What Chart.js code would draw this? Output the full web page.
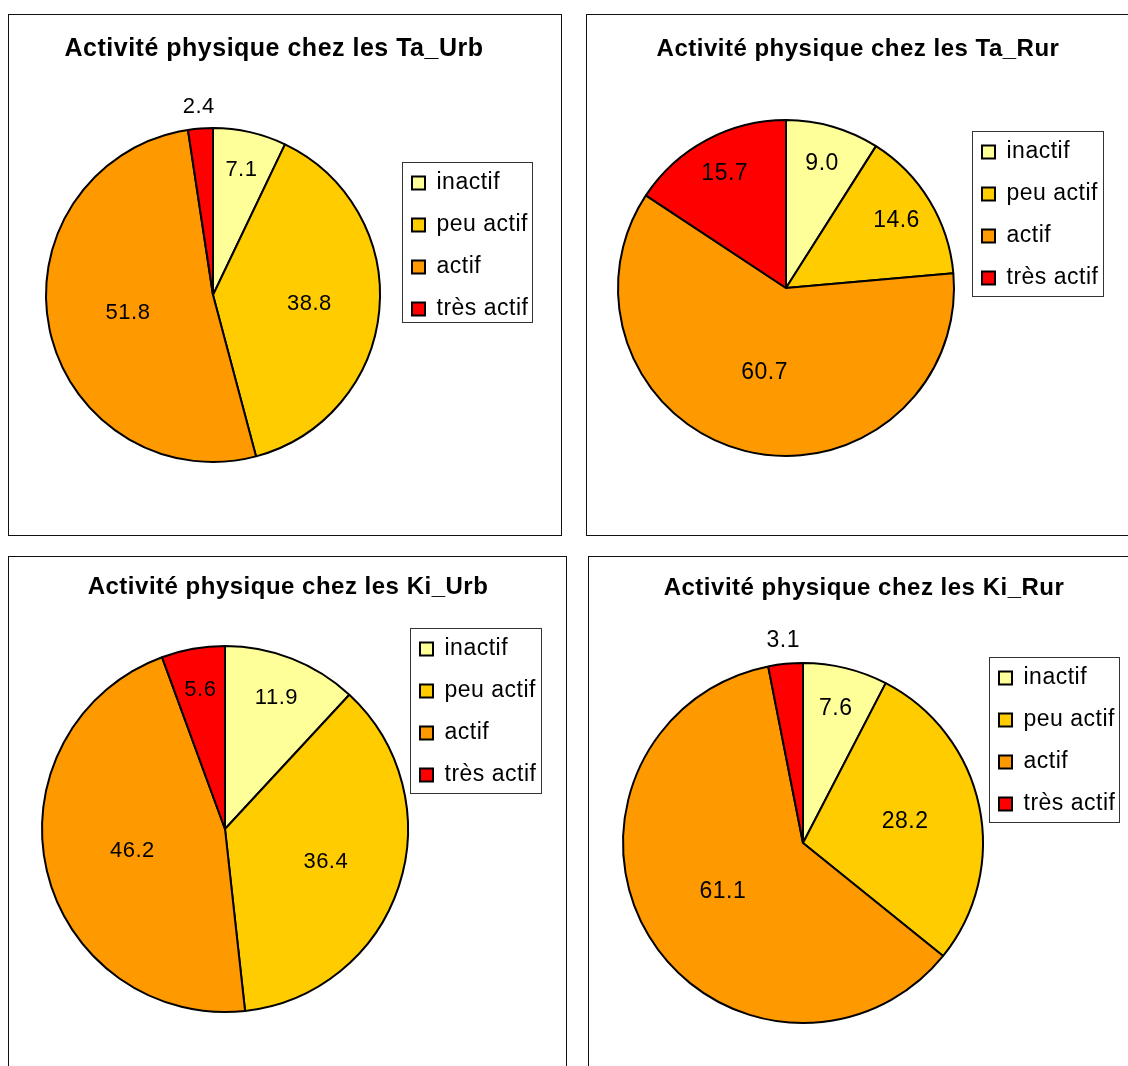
<!DOCTYPE html>
<html>
<head>
<meta charset="utf-8">
<script src="https://cdn.jsdelivr.net/npm/chart.js@4.4.0/dist/chart.umd.min.js"></script>
<style>
  html, body { margin: 0; padding: 0; background: #fff; }
  body { width: 1128px; height: 1066px; position: relative; overflow: hidden; }
  .panel { position: absolute; border: 1px solid #111; box-sizing: border-box; background: #fff; }
  .panel canvas { position: absolute; left: 0; top: 0; }
</style>
</head>
<body>
<div class="panel" id="p0"><canvas id="c0"></canvas></div>
<div class="panel" id="p1"><canvas id="c1"></canvas></div>
<div class="panel" id="p2"><canvas id="c2"></canvas></div>
<div class="panel" id="p3"><canvas id="c3"></canvas></div>
<script>
'use strict';

// categories and colours
const categories = ['inactif', 'peu actif', 'actif', 'très actif'];
const colors = ['#FFFF99', '#FFCC00', '#FF9900', '#FF0000'];

// values (%)
const taUrb = [7.1, 38.8, 51.8, 2.4];
const taRur = [9.0, 14.6, 60.7, 15.7];
const kiUrb = [11.9, 36.4, 46.2, 5.6];
const kiRur = [7.6, 28.2, 61.1, 3.1];

const titles = [
  'Activité physique chez les Ta_Urb',
  'Activité physique chez les Ta_Rur',
  'Activité physique chez les Ki_Urb',
  'Activité physique chez les Ki_Rur'
];
const series = [taUrb, taRur, kiUrb, kiRur];

// page layout (page pixels)
const panels = [
  { box: {x: 8,   y: 14,  w: 554, h: 522}, pie: {x: 213, y: 295, r: 167}, legend: {x: 402, y: 162, w: 130, h: 160}, titleX: 274, titleY: 49,  titleSize: 25, labelSize: 22 },
  { box: {x: 586, y: 14,  w: 560, h: 522}, pie: {x: 786, y: 288, r: 168}, legend: {x: 972, y: 131, w: 131, h: 165}, titleX: 858, titleY: 49,  titleSize: 24, labelSize: 23 },
  { box: {x: 8,   y: 556, w: 559, h: 520}, pie: {x: 225, y: 829, r: 183}, legend: {x: 410, y: 628, w: 131, h: 165}, titleX: 288, titleY: 587, titleSize: 24, labelSize: 22 },
  { box: {x: 588, y: 556, w: 560, h: 520}, pie: {x: 803, y: 843, r: 180}, legend: {x: 989, y: 657, w: 130, h: 165}, titleX: 864, titleY: 588, titleSize: 24, labelSize: 23 }
];

const FONT = '"Liberation Sans", Arial, sans-serif';
Chart.defaults.font.family = FONT;
Chart.defaults.color = '#000';

function panelPlugin(p) {
  const ox = p.box.x + 1, oy = p.box.y + 1;
  return {
    id: 'panelLayout',
    afterLayout(chart) {
      // square chart area around the pie position
      const cx = p.pie.x - ox, cy = p.pie.y - oy, r = p.pie.r + 1;
      chart.chartArea = { left: cx - r, top: cy - r, right: cx + r, bottom: cy + r, width: 2 * r, height: 2 * r };
      // move the legend into its framed box
      const lg = chart.legend;
      const lx = p.legend.x - ox, ly = p.legend.y - oy;
      lg.left = lx - 9;
      lg.top = ly - 9.5;
      lg.right = lx + p.legend.w + 20;
      lg.bottom = ly + 400;
    },
    beforeDraw(chart) {
      chart.ctx.letterSpacing = '0.5px';
    },
    afterDatasetsDraw(chart) {
      const ctx = chart.ctx;
      const meta = chart.getDatasetMeta(0);
      const vals = chart.data.datasets[0].data;
      const total = vals.reduce((a, b) => a + b, 0);
      ctx.save();
      ctx.font = p.labelSize + 'px ' + FONT;
      ctx.fillStyle = '#000';
      ctx.textAlign = 'center';
      ctx.textBaseline = 'middle';
      meta.data.forEach((arc, i) => {
        const {x, y, startAngle, endAngle, outerRadius} = arc.getProps(['x', 'y', 'startAngle', 'endAngle', 'outerRadius'], true);
        const pct = vals[i] / total * 100;
        const f = pct < 4 ? 1.13 : pct < 20 ? 0.77 : pct < 40 ? 0.58 : 0.52;
        const a = (startAngle + endAngle) / 2;
        ctx.fillText(vals[i].toFixed(1), x + Math.cos(a) * outerRadius * f, y + Math.sin(a) * outerRadius * f);
      });
      ctx.restore();
    },
    afterDraw(chart) {
      const ctx = chart.ctx;
      ctx.save();
      ctx.strokeStyle = '#333';
      ctx.lineWidth = 1;
      ctx.strokeRect(p.legend.x - ox + 0.5, p.legend.y - oy + 0.5, p.legend.w, p.legend.h);
      ctx.restore();
    }
  };
}

panels.forEach((p, i) => {
  const div = document.getElementById('p' + i);
  div.style.left = p.box.x + 'px';
  div.style.top = p.box.y + 'px';
  div.style.width = p.box.w + 'px';
  div.style.height = p.box.h + 'px';
  const canvas = document.getElementById('c' + i);
  canvas.width = p.box.w - 2;
  canvas.height = p.box.h - 2;

  const lineH = p.titleSize * 1.2;
  // shift the title centre with right padding
  const shift = canvas.width / 2 - (p.titleX - (p.box.x + 1));
  new Chart(canvas, {
    type: 'pie',
    data: {
      labels: categories,
      datasets: [{
        data: series[i],
        backgroundColor: colors,
        borderColor: '#000',
        borderWidth: 2
      }]
    },
    options: {
      responsive: false,
      animation: false,
      events: [],
      devicePixelRatio: 1,
      layout: {
        padding: { left: Math.max(-2 * shift, 0), right: Math.max(2 * shift, 0) }
      },
      plugins: {
        title: {
          display: true,
          text: titles[i],
          color: '#000',
          font: { size: p.titleSize, weight: 'bold', family: FONT },
          padding: { top: p.titleY - (p.box.y + 1) - lineH / 2, bottom: 10 }
        },
        legend: {
          display: true,
          position: 'right',
          align: 'start',
          labels: {
            boxWidth: 13,
            boxHeight: 13,
            padding: 19,
            color: '#000',
            font: { size: 23, family: FONT }
          }
        },
        tooltip: { enabled: false }
      }
    },
    plugins: [panelPlugin(p)]
  });
});
</script>
</body>
</html>
